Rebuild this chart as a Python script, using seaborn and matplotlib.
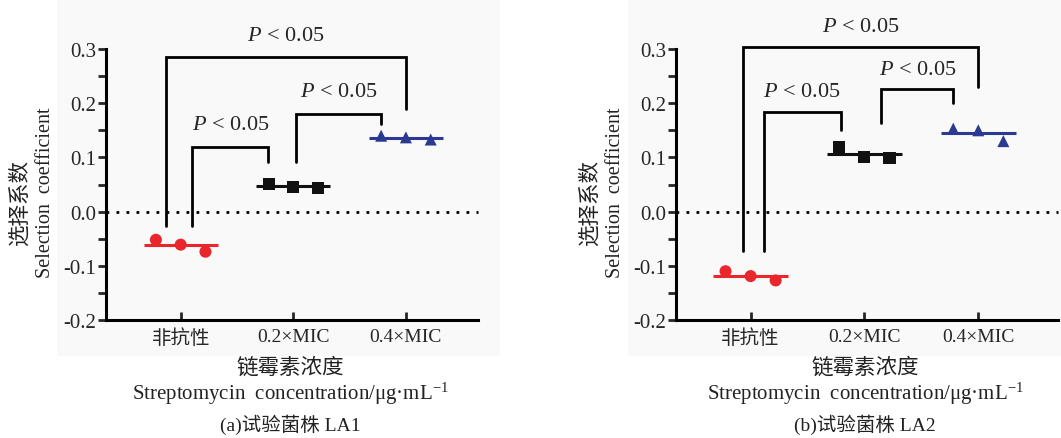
import numpy as np
import pandas as pd
import matplotlib
matplotlib.use("Agg")
import matplotlib.pyplot as plt
from matplotlib.patches import Rectangle
from matplotlib.ticker import MultipleLocator
import seaborn as sns

# ---------------- data ----------------
categories = ["非抗性", "0.2×MIC", "0.4×MIC"]
la1_nonres = [-0.052, -0.061, -0.074]
la1_mic02 = [0.051, 0.045, 0.043]
la1_mic04 = [0.140, 0.137, 0.133]
la2_nonres = [-0.110, -0.119, -0.127]
la2_mic02 = [0.120, 0.101, 0.099]
la2_mic04 = [0.153, 0.150, 0.130]
yticks = [-0.2, -0.1, 0.0, 0.1, 0.2, 0.3]
ytick_labels = ["-0.2", "-0.1", "0.0", "0.1", "0.2", "0.3"]
sig_label = "$\\mathit{P}$ < 0.05"
captions = ["(a)试验菌株 LA1", "(b)试验菌株 LA2"]
xlabel_cn = "链霉素浓度"
xlabel_en = "Streptomycin  concentration/μg·mL$^{-1}$"
ylabel_cn = "选择系数"
ylabel_en = "Selection  coefficient"

sns.set_theme(style="white")
FONTS = ["Liberation Serif", "Noto Sans CJK SC", "DejaVu Serif"]
plt.rcParams["font.family"] = FONTS
plt.rcParams["mathtext.fontset"] = "custom"
plt.rcParams["mathtext.rm"] = "Liberation Serif"
plt.rcParams["mathtext.it"] = "Liberation Serif:italic"

colors = ["#e8262b", "#111111", "#2b3990"]
markers = ["o", "s", "^"]
offsets = np.array([-0.22, 0.0, 0.22])

W, H = 1061, 439
fig = plt.figure(figsize=(W / 100, H / 100), dpi=100)
fig.patch.set_facecolor("white")

# light grey panels behind plots
for x0, x1 in [(57, 500), (628, 1061)]:
    fig.patches.append(Rectangle((x0 / W, 1 - 357 / H), (x1 - x0) / W, 357 / H,
                                 transform=fig.transFigure, facecolor="#f9f9f9",
                                 edgecolor="none", zorder=-10))

panels = [
    dict(data=[la1_nonres, la1_mic02, la1_mic04], px=(106, 478), xlim=(-0.663, 2.64),
         brackets=[
             # (x_left, x_right, y_top, y_left_bottom, y_right_bottom)
             (-0.13, 2.0, 0.285, -0.026, 0.190),
             (0.103, 0.777, 0.120, -0.026, 0.091),
             (1.02, 1.78, 0.180, 0.091, 0.162),
         ],
         texts=[(0.93, 0.325), (0.44, 0.160), (1.40, 0.222)],
         caption=captions[0], cx=290),
    dict(data=[la2_nonres, la2_mic02, la2_mic04], px=(676, 1058), xlim=(-0.655, 2.70),
         brackets=[
             (-0.065, 2.0, 0.304, -0.073, 0.230),
             (0.117, 0.79, 0.184, -0.073, 0.151),
             (1.143, 1.78, 0.227, 0.163, 0.200),
         ],
         texts=[(0.97, 0.342), (0.45, 0.222), (1.47, 0.262)],
         caption=captions[1], cx=865),
]

for p in panels:
    l, r = p["px"]
    ax = fig.add_axes([l / W, 1 - 321 / H, (r - l) / W, (321 - 50) / H])
    ax.set_facecolor("none")
    rows = []
    for ci, vals in enumerate(p["data"]):
        for k, v in enumerate(vals):
            rows.append(dict(cat=categories[ci], ci=ci, x=ci + offsets[k], y=v))
    df = pd.DataFrame(rows)
    sns.scatterplot(data=df, x="x", y="y", hue="cat", style="cat",
                    palette=dict(zip(categories, colors)),
                    markers=dict(zip(categories, markers)),
                    s=75, edgecolor="none", legend=False, ax=ax, zorder=4)
    for ci, vals in enumerate(p["data"]):
        m = float(np.mean(vals))
        ax.hlines(m, ci - 0.33, ci + 0.33, color=colors[ci], lw=2.2, zorder=3)
    ax.axhline(0, color="black", lw=2, ls=(0, (1, 2.6)), zorder=1)
    for (xl, xr, yt, ybl, ybr) in p["brackets"]:
        ax.plot([xl, xl, xr, xr], [ybl, yt, yt, ybr], color="black", lw=2,
                solid_joinstyle="miter", zorder=2)
    for (tx, ty) in p["texts"]:
        ax.text(tx, ty, sig_label, ha="center", va="center", fontsize=16,
                family=FONTS)
    ax.set_xlim(*p["xlim"])
    ax.set_ylim(-0.2, 0.3)
    ax.set_xticks(range(3))
    ax.set_xticklabels(categories, fontsize=14, family=FONTS)
    ax.set_yticks(yticks)
    ax.set_yticklabels(ytick_labels, fontsize=15, family=FONTS)
    ax.yaxis.set_minor_locator(MultipleLocator(0.05))
    ax.tick_params(axis="y", which="both", direction="out", length=6, width=2,
                   left=True, pad=1)
    ax.tick_params(axis="x", direction="in", length=6, width=2, bottom=True, pad=6)
    ax.set_xlabel("")
    ax.set_ylabel("")
    for s in ["top", "right"]:
        ax.spines[s].set_visible(False)
    for s in ["left", "bottom"]:
        ax.spines[s].set_color("black")
        ax.spines[s].set_linewidth(2.2)
    for art in ax.lines + ax.collections:
        art.set_clip_on(False)

    # axis labels
    cx = p["cx"] / W
    fig.text(cx, 1 - 368 / H, xlabel_cn, ha="center", va="center", fontsize=15.5,
             family=FONTS, color="#222222")
    fig.text(cx, 1 - 394 / H, xlabel_en, ha="center", va="center", fontsize=15,
             family=FONTS, color="#222222")
    fig.text(cx, 1 - 425 / H, p["caption"], ha="center", va="center", fontsize=14,
             family=FONTS, color="#222222")
    yl_x = (l - 86) / W
    fig.text(yl_x, 1 - 203 / H, ylabel_cn, ha="center", va="center", fontsize=15.5,
             rotation=90, family=FONTS, color="#222222")
    fig.text(yl_x + 26 / W, 1 - 193 / H, ylabel_en, ha="center", va="center",
             fontsize=14.5, rotation=90, family=FONTS, color="#222222")

fig.savefig("out.png", dpi=100)
